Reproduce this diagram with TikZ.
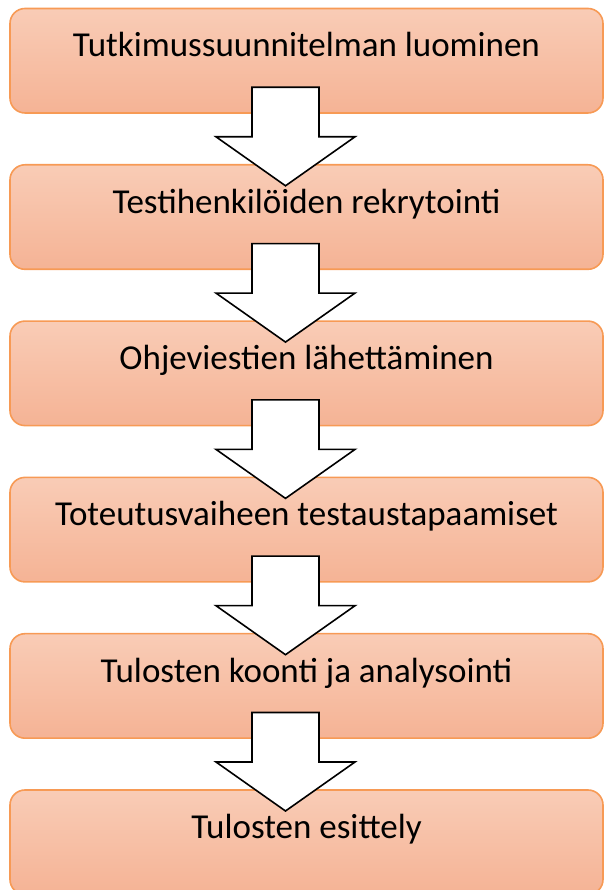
\documentclass[tikz,border=0pt]{standalone}
\usepackage{fontspec}
\setmainfont{Carlito}
\usetikzlibrary{calc}
\definecolor{boxline}{HTML}{F79A55}
\definecolor{boxtop}{HTML}{F9CCB6}
\definecolor{boxbot}{HTML}{F5B395}
\tikzset{
  stepbox/.style={draw=boxline, line width=1.6pt, rounded corners=15pt,
    top color=boxtop, bottom color=boxbot,
    minimum width=593pt, minimum height=104.5pt, inner sep=0pt,
    font=\fontsize{35}{42}\selectfont, text height=20pt, text depth=27.5pt},
  blockarrow/.style={draw=black, fill=white, line width=1.6pt, line join=miter}
}
\newcommand{\flowarrow}[1]{%
  \draw[blockarrow] ($(#1.south)+(-54.5,26.5)$) -- ++(67,0) -- ++(0,-49.5)
    -- ++(36,0) -- ++(-69.5,-49) -- ++(-69.5,49) -- ++(36,0) -- cycle;}
\begin{document}
\begin{tikzpicture}[x=1pt,y=1pt]
\useasboundingbox (0,0) rectangle (604,890);
\node[stepbox] (b1) at (306.5,829.25) {Tutkimussuunnitelman luominen};
\node[stepbox] (b2) at (306.5,672.95) {Testihenkilöiden rekrytointi};
\node[stepbox] (b3) at (306.5,516.65) {Ohjeviestien lähettäminen};
\node[stepbox] (b4) at (306.5,360.35) {Toteutusvaiheen testaustapaamiset};
\node[stepbox] (b5) at (306.5,204.05) {Tulosten koonti ja analysointi};
\node[stepbox] (b6) at (306.5,47.75) {Tulosten esittely};
\flowarrow{b1}
\flowarrow{b2}
\flowarrow{b3}
\flowarrow{b4}
\flowarrow{b5}
\end{tikzpicture}
\end{document}
